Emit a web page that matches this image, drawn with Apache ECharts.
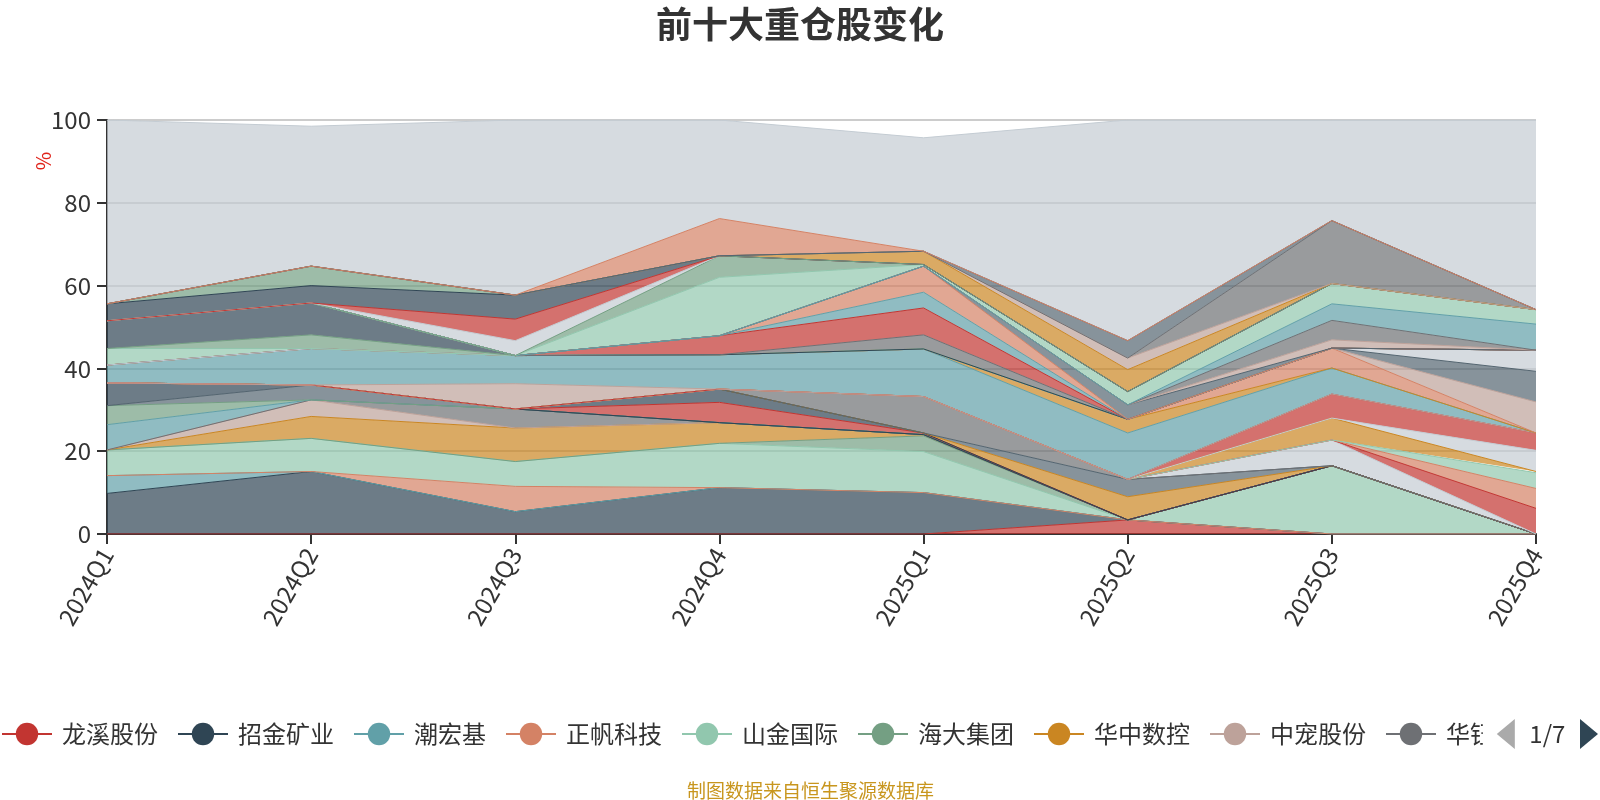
<!DOCTYPE html>
<html>
<head>
<meta charset="utf-8">
<title>前十大重仓股变化</title>
<script src="https://cdn.jsdelivr.net/npm/echarts@6/dist/echarts.min.js"></script>
<style>
  html, body { margin: 0; padding: 0; background: #fff; }
  #chart { width: 1600px; height: 800px; }
</style>
</head>
<body>
<div id="chart"></div>
<script>
// 季度
const quarters = ['2024Q1', '2024Q2', '2024Q3', '2024Q4', '2025Q1', '2025Q2', '2025Q3', '2025Q4']

// 持仓名称 (按堆叠顺序, 底 -> 顶)
const stockNames = [
  '龙溪股份', '招金矿业', '潮宏基', '正帆科技', '山金国际', '海大集团', '华中数控', '中宠股份', '华钰矿业',
  '赤峰黄金', '牧原股份', '紫金矿业', '中金黄金', '北方华创', '湖南黄金', '创世纪', '海天精工', '乖宝宠物',
  '老铺黄金', '汇川技术', '拓荆科技', '温氏股份', '纽威数控', '周大生', '恒立液压', '佩蒂股份', '中国黄金',
  '科德数控', '中微公司', '源飞宠物', '西部黄金', '菜百股份', '鸣志电器', '海利得', '灵宝黄金', '三花智控',
  '埃斯顿', '绿的谐波', '芯源微', '双环传动', '长川科技', '五洲新春', '豪迈科技', '兆威机电', '华海清科',
  '中大力德', '拓普集团', '洛阳钼业', '圣农发展', '浙江荣泰', '瑞普生物', '盛达资源', '山东黄金', '杰瑞股份',
  '其他'
]

// 占净值比例 (%), 每行对应 quarters
const weights = [
  [0, 0, 0, 0, 0, 3.4, 0, 0],
  [9.8, 15.1, 5.4, 11.2, 10.0, 0, 0, 0],
  [4.3, 0, 0, 0, 0, 0, 0, 0],
  [0, 0, 6.1, 0, 0, 0, 0, 0],
  [6.2, 8.0, 6.0, 10.7, 9.9, 0, 16.5, 0],
  [0, 0, 0, 0, 3.8, 0, 0, 0],
  [0, 5.3, 8.1, 5.0, 0.3, 0, 0, 0],
  [0, 4.0, 0, 0, 0, 0, 0, 0],
  [0, 0, 4.6, 0, 0, 0, 0, 0],
  [6.1, 0, 0, 0, 0, 0, 0, 0],
  [4.6, 0, 0, 0, 0, 0, 0, 0],
  [0, 3.6, 0, 0, 0, 0, 0, 0],
  [5.5, 0, 0, 0, 0, 0, 0, 0],
  [0, 0, 0, 4.9, 0.4, 0, 0, 0],
  [0, 0, 0, 3.2, 0, 0, 0, 0],
  [0, 0, 0, 0, 0, 5.6, 0, 0],
  [0, 0, 0, 0, 0, 4.2, 0, 0],
  [0, 0, 0, 0, 8.8, 0, 0, 0],
  [0, 0, 0, 0, 0, 0, 6.2, 0],
  [0, 0, 0, 0, 0, 0, 0, 6.2],
  [0, 0, 0, 0, 0, 0, 0, 4.8],
  [0, 0, 0, 0, 0, 0, 0, 3.8],
  [0, 0, 0, 0, 0, 0, 5.3, 0.3],
  [0, 0, 0, 0, 0, 0, 0, 5.1],
  [0, 0, 0, 0, 0, 0, 5.8, 4.2],
  [0, 0, 6.1, 0, 0, 0, 0, 0],
  [4.3, 8.8, 6.8, 8.3, 11.5, 11.2, 6.3, 0],
  [0, 0, 0, 0, 0, 3.3, 0, 0],
  [0, 0, 0, 0, 0, 0, 4.8, 0],
  [0, 0, 0, 0, 0, 0, 0, 7.5],
  [0, 0, 0, 0, 0, 0, 0, 7.4],
  [0, 0, 0, 0, 0, 0, 0, 5.1],
  [4.0, 0, 0, 0, 0, 0, 0, 0],
  [0, 3.3, 0, 0, 0, 0, 0, 0],
  [6.7, 7.7, 0, 0, 0, 0, 0, 0],
  [0, 0, 0, 0, 3.4, 0, 0, 0],
  [0, 0, 0, 4.6, 6.5, 0, 0, 0],
  [0, 0, 0, 0, 3.8, 0, 0, 0],
  [0, 0, 0, 0, 6.3, 0, 0, 0],
  [0, 0, 0, 0, 0, 3.5, 0, 0],
  [0, 0, 0, 0, 0, 0, 2.0, 0],
  [0, 0, 0, 0, 0, 0, 4.7, 0],
  [0, 0, 0, 0, 0, 0, 4.0, 6.3],
  [0, 0, 0, 14.1, 0.4, 3.2, 4.9, 3.5],
  [0, 0, 0, 5.2, 0, 0, 0, 0],
  [0, 0, 3.6, 0, 0, 0, 0, 0],
  [0, 0, 5.2, 0, 0, 0, 0, 0],
  [4.1, 4.2, 5.8, 0, 0, 0, 0, 0],
  [0, 4.7, 0, 0, 0, 0, 0, 0],
  [0, 0, 0, 0, 3.2, 5.3, 0, 0],
  [0, 0, 0, 0, 0, 2.8, 0, 0],
  [0, 0, 0, 0, 0, 0, 15.2, 0],
  [0, 0, 0, 0, 0, 4.2, 0, 0],
  [0, 0, 0, 9.0, 0, 0, 0, 0],
  [44.4, 33.8, 42.3, 23.8, 27.4, 53.3, 24.3, 45.8]
]

// 配色 (ECharts 4 默认色板)
const RED = '#c23531', NAVY = '#2f4554', TEAL = '#61a0a8', SALMON = '#d48265', LGREEN = '#91c7ae'
const GREEN = '#749f83', ORANGE = '#ca8622', BEIGE = '#bda29a', GRAY = '#6e7074', BLUISH = '#546570', LGRAY = '#c4ccd3'

const seriesColors = [
  RED, NAVY, TEAL, SALMON, LGREEN, GREEN, ORANGE, BEIGE, GRAY,
  TEAL, GREEN, BLUISH, NAVY, RED, NAVY, ORANGE, BLUISH, GRAY,
  LGRAY, RED, SALMON, LGREEN, ORANGE, LGRAY, RED, BEIGE, TEAL,
  ORANGE, SALMON, BEIGE, BLUISH, LGRAY, LGREEN, GREEN, NAVY, GRAY,
  RED, TEAL, SALMON, BLUISH, BEIGE, GRAY, TEAL, LGREEN, GREEN,
  LGRAY, RED, NAVY, GREEN, ORANGE, BEIGE, GRAY, BLUISH, SALMON,
  LGRAY
]

const FONT = '"Noto Sans CJK SC", "Noto Sans", sans-serif'

const chart = echarts.init(document.getElementById('chart'))

// 堆叠面积, 每条线颜色跟面积一致
const series = stockNames.map((name, i) => ({
  name,
  type: 'line',
  stack: 'total',
  data: weights[i],
  symbol: 'circle',
  showSymbol: false,
  smooth: false,
  color: seriesColors[i],
  lineStyle: { width: 1, color: seriesColors[i] },
  areaStyle: { color: seriesColors[i], opacity: 0.7 },
  emphasis: { disabled: true },
}))

chart.setOption({
  animation: false,
  title: [
    {
      text: '前十大重仓股变化',
      left: 'center',
      top: 1,
      textStyle: { fontFamily: FONT, fontSize: 36, fontWeight: 'bold', color: '#333' },
    },
    {
      text: '制图数据来自恒生聚源数据库',
      left: 682,
      top: 776,
      textStyle: { fontFamily: FONT, fontSize: 19, fontWeight: 'normal', color: '#c8961e' },
    },
  ],
  graphic: [
    {
      type: 'text',
      x: 43,
      y: 161,
      rotation: Math.PI / 2,
      style: {
        text: '%',
        fill: '#e0241b',
        font: '20px ' + FONT,
        align: 'center',
        verticalAlign: 'middle',
      },
    },
  ],
  legend: {
    type: 'scroll',
    left: 0,
    right: 0,
    top: 714,
    padding: [5, 2, 5, 1],
    itemWidth: 50,
    itemHeight: 28,
    itemGap: 19,
    textStyle: { fontFamily: FONT, fontSize: 24, color: '#333', padding: [0, 0, 0, 5] },
    pageIconSize: 30,
    pageButtonItemGap: 4,
    pageButtonGap: 14,
    pageIconColor: '#2f4554',
    pageIconInactiveColor: '#aaa',
    pageTextStyle: { fontFamily: FONT, fontSize: 24, color: '#333' },
    data: stockNames.map((name, i) => ({
      name,
      itemStyle: { color: seriesColors[i] },
      lineStyle: { color: seriesColors[i], width: 2 },
    })),
  },
  grid: { left: 107, right: 64, top: 120, bottom: 266 },
  xAxis: {
    type: 'category',
    boundaryGap: false,
    data: quarters,
    axisLine: { lineStyle: { color: '#333', width: 2 } },
    axisTick: { length: 10, lineStyle: { color: '#333', width: 2 } },
    axisLabel: { rotate: 60, fontSize: 24, margin: 16, color: '#333', fontFamily: FONT },
  },
  yAxis: {
    type: 'value',
    min: 0,
    max: 100,
    interval: 20,
    axisLine: { show: true, lineStyle: { color: '#333', width: 2 } },
    axisTick: { show: true, length: 10, lineStyle: { color: '#333', width: 2 } },
    axisLabel: { fontSize: 24, margin: 16, color: '#333', fontFamily: FONT },
    splitLine: { lineStyle: { color: '#ccc', width: 2 } },
  },
  series,
})
</script>
</body>
</html>
